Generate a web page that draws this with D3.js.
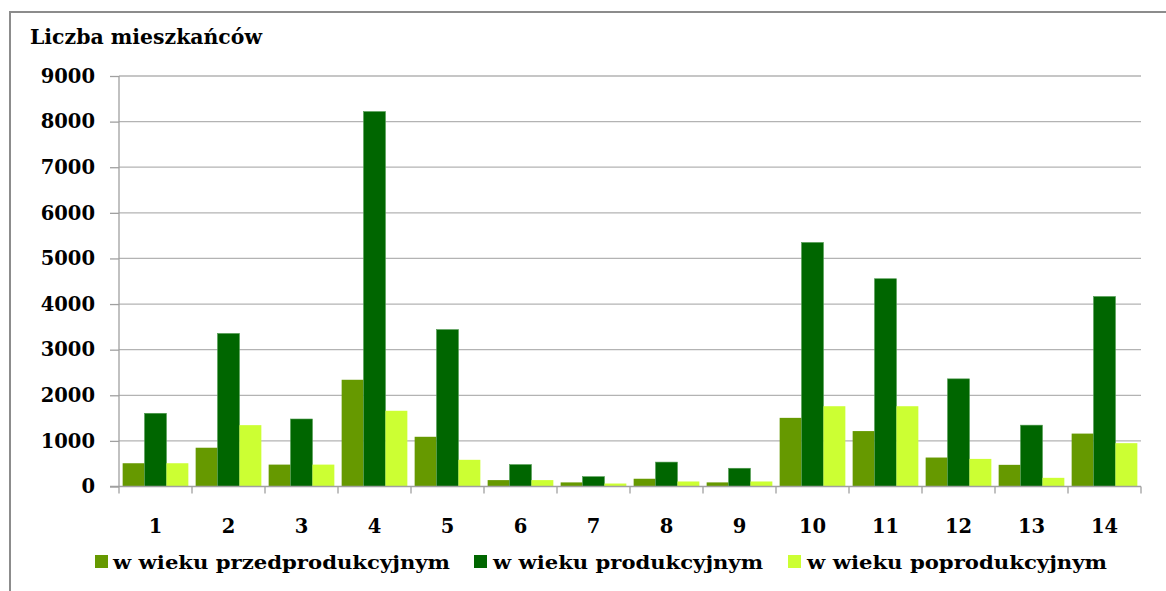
<!DOCTYPE html>
<html>
<head>
<meta charset="utf-8">
<script src="https://cdn.jsdelivr.net/npm/d3@7"></script>
<style>
  html, body { margin: 0; padding: 0; background: #fff; }
  svg { display: block; }
  text { font-family: "DejaVu Serif", serif; font-weight: bold; fill: #000; }
</style>
</head>
<body>
<svg id="chart" width="1166" height="591"></svg>
<script>
const categories = ["1","2","3","4","5","6","7","8","9","10","11","12","13","14"];
const seriesNames = ["w wieku przedprodukcyjnym", "w wieku produkcyjnym", "w wieku poprodukcyjnym"];
const przedprodukcyjny = [510, 850, 480, 2340, 1090, 140, 90, 170, 90, 1505, 1215, 635, 475, 1160];
const produkcyjny      = [1605, 3355, 1480, 8220, 3440, 480, 215, 535, 400, 5350, 4555, 2360, 1345, 4165];
const poprodukcyjny    = [510, 1345, 480, 1660, 585, 140, 65, 110, 110, 1760, 1760, 605, 190, 950];
const yTicks = [0, 1000, 2000, 3000, 4000, 5000, 6000, 7000, 8000, 9000];
const colors = ["#669900", "#006600", "#CCFF33"];
const titleText = "Liczba mieszkańców";

const svg = d3.select("#chart");
const pLeft = 119, pRight = 1141, pTop = 76, pBottom = 486.5;

// outer frame
svg.append("rect").attr("x", 10).attr("y", 12).attr("width", 1170).attr("height", 600)
  .attr("fill", "none").attr("stroke", "#8c8c8c").attr("stroke-width", 2);

const x = d3.scaleBand().domain(categories).range([pLeft, pRight]).paddingInner(0.1).paddingOuter(0.05);
const xs = d3.scaleBand().domain(d3.range(3)).range([0, x.bandwidth()]);
const y = d3.scaleLinear().domain([0, 9000]).range([pBottom, pTop]);

// gridlines
svg.append("g").selectAll("line").data(yTicks.filter(d => d > 0)).join("line")
  .attr("x1", pLeft).attr("x2", pRight)
  .attr("y1", d => y(d)).attr("y2", d => y(d))
  .attr("stroke", "#b3b3b3").attr("stroke-width", 1.3);

// y axis
const yAxis = svg.append("g").attr("transform", `translate(${pLeft},0)`)
  .call(d3.axisLeft(y).tickValues(yTicks).tickSize(9).tickPadding(15).tickFormat(d3.format("d")));
yAxis.select(".domain").attr("stroke", "#a0a0a0").attr("stroke-width", 1.3).attr("d", `M0,${pTop}V${pBottom}`);
yAxis.selectAll(".tick line").attr("stroke", "#a0a0a0").attr("stroke-width", 1.3);
yAxis.selectAll(".tick text").style("font-size", "19.5px").style("font-family", "DejaVu Serif").style("font-weight", "bold").attr("fill", "#000");

// bars
const data = categories.map((c, i) => ({ c, vals: [przedprodukcyjny[i], produkcyjny[i], poprodukcyjny[i]] }));
const groups = svg.append("g").selectAll("g").data(data).join("g")
  .attr("transform", d => `translate(${x(d.c)},0)`);
groups.selectAll("rect").data(d => d.vals.map((v, k) => ({ v, k }))).join("rect")
  .attr("x", d => xs(d.k)).attr("width", xs.bandwidth())
  .attr("y", d => y(d.v)).attr("height", d => y(0) - y(d.v))
  .attr("fill", d => colors[d.k])
  .attr("stroke", d => d.k === 1 ? "#4f9a4f" : "none").attr("stroke-width", 0.6);

// x axis baseline and boundary ticks
const step = x.step();
svg.append("line").attr("x1", pLeft - 9).attr("x2", pRight).attr("y1", pBottom).attr("y2", pBottom)
  .attr("stroke", "#a0a0a0").attr("stroke-width", 1.3);
svg.append("g").selectAll("line").data(d3.range(categories.length + 1)).join("line")
  .attr("x1", i => pLeft + i * step).attr("x2", i => pLeft + i * step)
  .attr("y1", pBottom).attr("y2", pBottom + 7)
  .attr("stroke", "#a0a0a0").attr("stroke-width", 1.3);

// x labels
svg.append("g").selectAll("text").data(categories).join("text")
  .attr("x", d => x(d) + x.bandwidth() / 2).attr("y", 533)
  .attr("text-anchor", "middle").style("font-size", "19.5px").text(d => d);

// title
svg.append("text").attr("x", 30).attr("y", 44).style("font-size", "21px")
  .attr("textLength", 232).attr("lengthAdjust", "spacingAndGlyphs").text(titleText);

// legend
const legendPos = [{ sq: 95, tx: 113, w: 337 }, { sq: 474, tx: 493, w: 270 }, { sq: 788, tx: 807, w: 300 }];
const lg = svg.append("g").selectAll("g").data(seriesNames).join("g");
lg.append("rect").attr("x", (d, i) => legendPos[i].sq).attr("y", 555).attr("width", 13).attr("height", 13)
  .attr("fill", (d, i) => colors[i]);
lg.append("text").attr("x", (d, i) => legendPos[i].tx).attr("y", 569).style("font-size", "19px")
  .attr("textLength", (d, i) => legendPos[i].w).attr("lengthAdjust", "spacingAndGlyphs").text(d => d);
</script>
</body>
</html>
